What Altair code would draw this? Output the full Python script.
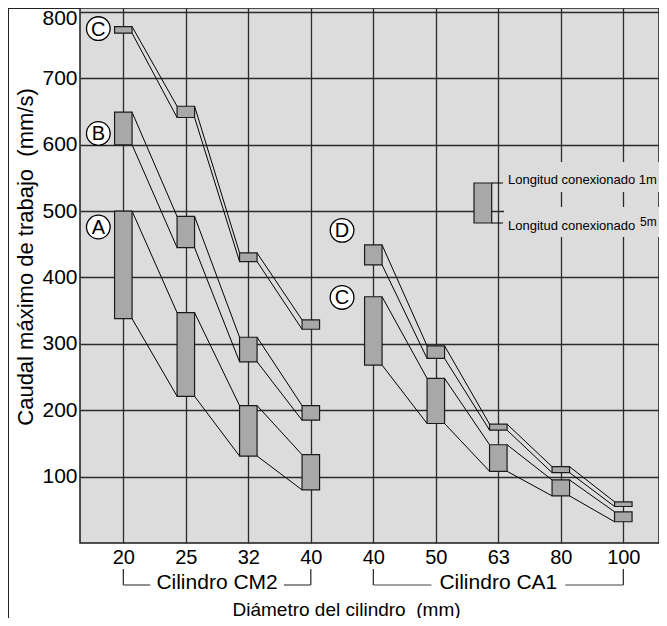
import altair as alt
import pandas as pd

# ---------------- data ----------------
tick_labels = ["20", "25", "32", "40", "40", "50", "63", "80", "100"]
cm2_pos = [0, 1, 2, 3]
ca1_pos = [4, 5, 6, 7, 8]
group_names = ["Cilindro CM2", "Cilindro CA1"]
group_first = [0, 4]
group_last = [3, 8]

# upper edge = 1 m tubing, lower edge = 5 m tubing  (mm/s)
A_1m = [500, 347, 207, 133]
A_5m = [338, 221, 131, 80]
B_1m = [649, 492, 310, 207]
B_5m = [600, 445, 273, 185]
C_cm2_1m = [778, 658, 437, 336]
C_cm2_5m = [768, 641, 424, 322]
D_1m = [449, 297, 179, 115, 62]
D_5m = [419, 278, 170, 106, 55]
C_ca1_1m = [371, 248, 148, 95, 47]
C_ca1_5m = [268, 180, 108, 71, 32]

letter_names = ["C", "B", "A", "D", "C"]
letter_x = [-0.4, -0.4, -0.4, 3.5, 3.5]
letter_y = [775, 617, 476, 471, 370]

legend_1m = "Longitud conexionado 1m"
legend_5m_a = "Longitud conexionado"
legend_5m_b = "5m"
y_title = "Caudal máximo de trabajo\u00a0 (mm/s)"
x_title = "Diámetro del cilindro\u00a0 (mm)"

# ---------------- build tables ----------------
series = [
    (cm2_pos, A_1m, A_5m),
    (cm2_pos, B_1m, B_5m),
    (cm2_pos, C_cm2_1m, C_cm2_5m),
    (ca1_pos, D_1m, D_5m),
    (ca1_pos, C_ca1_1m, C_ca1_5m),
]
HW = 0.14  # half box width, in category units

box_rows, seg_rows = [], []
for pos, hi, lo in series:
    for p, h, l in zip(pos, hi, lo):
        box_rows.append({"x": p - HW, "x2": p + HW, "y": l, "y2": h})
    for i in range(len(pos) - 1):
        for vals in (hi, lo):
            seg_rows.append({"x": pos[i] + HW, "x2": pos[i + 1] - HW,
                             "y": vals[i], "y2": vals[i + 1]})
boxes = pd.DataFrame(box_rows)
segs = pd.DataFrame(seg_rows)
letters = pd.DataFrame({"x": letter_x, "y": letter_y, "t": letter_names})

GAP = 1.07
br_v, br_h, br_t = [], [], []
for name, f, l in zip(group_names, group_first, group_last):
    c = (f + l) / 2
    br_v += [{"x": f}, {"x": l}]
    br_h += [{"x": f, "x2": c - GAP}, {"x": c + GAP, "x2": l}]
    br_t.append({"x": c, "t": name})
br_v = pd.DataFrame(br_v)
br_h = pd.DataFrame(br_h)
br_t = pd.DataFrame(br_t)
one = pd.DataFrame({"k": [0]})

# ---------------- scales / axes ----------------
W, H = 579, 535
BG = "#dcdcdc"
GRID = "#2b2b2b"
FONT = "Liberation Sans"

label_expr = "[" + ",".join("'%s'" % t for t in tick_labels) + "][datum.value]"
xscale = alt.Scale(domain=[-0.693, 8.571], nice=False, zero=False)
yscale = alt.Scale(domain=[0, 806], nice=False, zero=False)

xaxis = alt.Axis(values=list(range(len(tick_labels))), labelExpr=label_expr,
                 ticks=False, domain=False, grid=True, gridColor=GRID,
                 gridWidth=1.3, gridOpacity=1, labelFontSize=20, labelPadding=4,
                 labelColor="black", labelFont=FONT, labelFlush=False,
                 labelOverlap=False, title=x_title, titleFontSize=19,
                 titleFontWeight="normal", titleFont=FONT, titleColor="black",
                 titleX=266, titleY=66, titleAlign="center",
                 titleBaseline="middle")
yaxis = alt.Axis(values=[100, 200, 300, 400, 500, 600, 700, 800],
                 ticks=False, domain=False, grid=True, gridColor=GRID,
                 gridWidth=1.3, gridOpacity=1, labelFontSize=21, labelPadding=3,
                 labelColor="black", labelFont=FONT,
                 labelOffset={"condition": {"test": "datum.value == 800", "value": 7},
                              "value": 0},
                 title=y_title,
                 titleFontSize=22, titleFontWeight="normal", titleFont=FONT,
                 titleColor="black", titleX=-55, titleY=248.5, titleAngle=270,
                 titleAlign="center", titleBaseline="middle")

X = alt.X("x:Q", scale=xscale, axis=xaxis)
X2 = alt.X2("x2:Q")
Y = alt.Y("y:Q", scale=yscale, axis=yaxis)
Y2 = alt.Y2("y2:Q")

# ---------------- layers ----------------
seg_layer = alt.Chart(segs).mark_rule(color="black", strokeWidth=1).encode(
    x=X, x2=X2, y=Y, y2=Y2)
box_layer = alt.Chart(boxes).mark_rect(fill="#a8a8a8", stroke="#1a1a1a",
                                        strokeWidth=1.2).encode(
    x=X, x2=X2, y=Y, y2=Y2)
circ_layer = alt.Chart(letters).mark_circle(size=560, fill="white", stroke="black",
                                             strokeWidth=1.3, opacity=1).encode(
    x=X, y=Y)
let_layer = alt.Chart(letters).mark_text(fontSize=20, font=FONT, color="black",
                                          align="center", baseline="middle",
                                          dy=1).encode(x=X, y=Y, text="t:N")

# legend key
leg_mask1 = alt.Chart(one).mark_rect(fill=BG).encode(
    x=alt.value(424), x2=alt.value(W), y=alt.value(154), y2=alt.value(184))
leg_mask2 = alt.Chart(one).mark_rect(fill=BG).encode(
    x=alt.value(424), x2=alt.value(W), y=alt.value(199), y2=alt.value(229))
leg_box = alt.Chart(one).mark_rect(fill="#a8a8a8", stroke="#1a1a1a",
                                    strokeWidth=1.2).encode(
    x=alt.value(394), x2=alt.value(411.7), y=alt.value(175), y2=alt.value(215))
leg_t1 = alt.Chart(one).mark_rule(color="black", strokeWidth=1).encode(
    x=alt.value(411.7), x2=alt.value(423), y=alt.value(175))
leg_t2 = alt.Chart(one).mark_rule(color="black", strokeWidth=1).encode(
    x=alt.value(411.7), x2=alt.value(423), y=alt.value(215))
leg_txt1 = alt.Chart(one).mark_text(text=legend_1m, font=FONT, fontSize=13,
                                     align="left", baseline="alphabetic",
                                     color="black").encode(
    x=alt.value(428), y=alt.value(176))
leg_txt2 = alt.Chart(one).mark_text(text=legend_5m_a, font=FONT, fontSize=13,
                                     align="left", baseline="alphabetic",
                                     color="black").encode(
    x=alt.value(428), y=alt.value(222))
leg_txt3 = alt.Chart(one).mark_text(text=legend_5m_b, font=FONT, fontSize=12,
                                     align="left", baseline="alphabetic",
                                     color="black").encode(
    x=alt.value(560), y=alt.value(218))

# group brackets below the axis
brv_layer = alt.Chart(br_v).mark_rule(color="#222", strokeWidth=1.2).encode(
    x=X, y=alt.value(H + 26), y2=alt.value(H + 42))
brh_layer = alt.Chart(br_h).mark_rule(color="#444", strokeWidth=1.2).encode(
    x=X, x2=X2, y=alt.value(H + 42))
brt_layer = alt.Chart(br_t).mark_text(fontSize=21, font=FONT, color="black",
                                       align="center", baseline="middle").encode(
    x=X, y=alt.value(H + 40), text="t:N")

# outer frame
frame_l = alt.Chart(one).mark_rule(color="#222", strokeWidth=1).encode(
    x=alt.value(-71.5), y=alt.value(0), y2=alt.value(H + 80))
frame_t = alt.Chart(one).mark_rule(color="#222", strokeWidth=1.2).encode(
    x=alt.value(-71.5), x2=alt.value(0), y=alt.value(0.5))

chart = alt.layer(
    seg_layer, box_layer, circ_layer, let_layer,
    leg_mask1, leg_mask2, leg_box, leg_t1, leg_t2, leg_txt1, leg_txt2, leg_txt3,
    brv_layer, brh_layer, brt_layer, frame_l, frame_t,
).properties(
    width=W, height=H,
    autosize=alt.AutoSizeParams(type="none"),
    padding={"left": 72, "top": 0, "right": 0, "bottom": 75},
    background="white",
).configure_view(
    fill=BG, stroke="#1a1a1a", strokeWidth=1.5,
)

chart.save("out.html", embed_options={"renderer": "svg", "actions": False})
